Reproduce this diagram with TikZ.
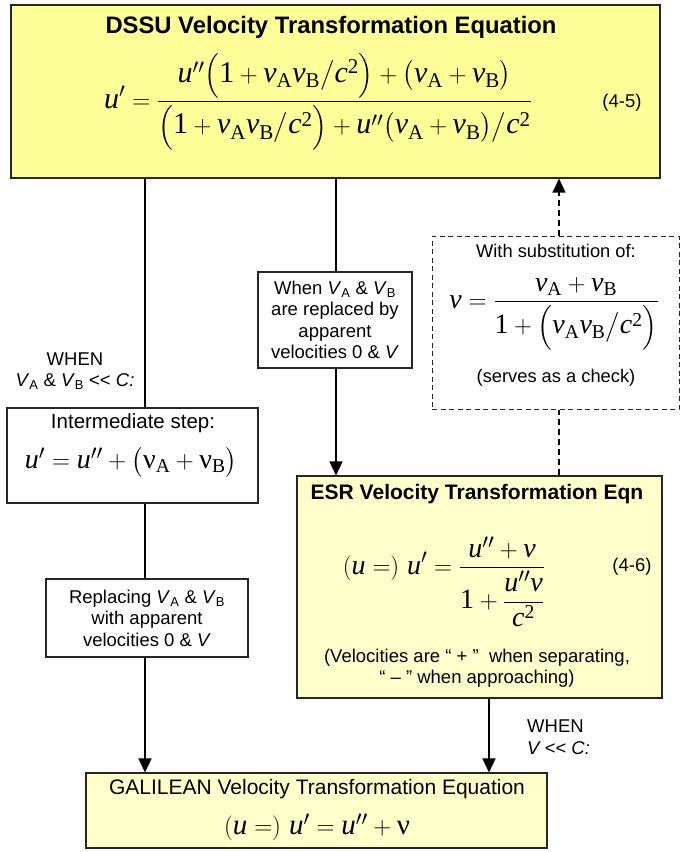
\documentclass[tikz,border=0pt]{standalone}
\usepackage{amsmath}
\usepackage{fontspec}
\setmainfont{Liberation Sans}
\newfontfamily\tms{Liberation Serif}
\usetikzlibrary{arrows.meta}
\definecolor{ybright}{HTML}{FFFF99}
\definecolor{ylight}{HTML}{FFFFCC}
\newcommand{\Uu}{\text{\tms\itshape u}}
\newcommand{\Cc}{\text{\tms\itshape c}}
\newcommand{\Nn}{\text{\tms\itshape ν}}
\newcommand{\One}{\text{\tms 1}}
\newcommand{\Sq}{^{\text{\tms 2}}}
\newcommand{\nA}{\Nn_{\text{\tms A}}}
\newcommand{\nB}{\Nn_{\text{\tms B}}}
\newcommand{\upn}{\text{\tms ν}}
\newcommand{\VA}{\textit{V}\textsubscript{A}}
\newcommand{\VB}{\textit{V}\textsubscript{B}}
\tikzset{
  boxbase/.style={draw=black!85, line width=1.1pt, inner sep=0pt},
  ybox/.style={boxbase, fill=ybright},
  lbox/.style={boxbase, fill=ylight},
  wbox/.style={boxbase, fill=white},
  dbox/.style={draw=black!85, line width=1pt, dash pattern=on 5pt off 3.5pt, inner sep=0pt},
  lbl/.style={inner sep=0pt, align=center, font=\fontsize{18.5}{21.5}\selectfont},
  ttl/.style={inner sep=0pt, font=\fontsize{#1}{#1}\selectfont\bfseries},
  txt/.style={inner sep=0pt, font=\fontsize{#1}{#1}\selectfont},
  eqn/.style={inner sep=0pt, font=\fontsize{#1}{#1}\selectfont},
  conn/.style={line width=1.4pt, draw=black},
  arr/.style={conn, -{Triangle[length=14pt,width=13pt]}},
  dconn/.style={line width=1.2pt, draw=black, dash pattern=on 6pt off 4pt},
}
\begin{document}
\begin{tikzpicture}[x=1pt,y=-1pt]
\useasboundingbox (0,0) rectangle (682,852);
% boxes
\node[ybox, minimum width=649pt, minimum height=173pt] (topbox) at (335.5,91.5) {};
\node[dbox, minimum width=247pt, minimum height=173pt] (dashbox) at (555.5,322.5) {};
\node[wbox, minimum width=154pt, minimum height=96pt, lbl] (midlab) at (335,320)
  {When \VA\ \& \VB\\are replaced by\\apparent\\velocities 0 \& \textit{V}};
\node[wbox, minimum width=251pt, minimum height=95pt] (inter) at (132.5,455.5) {};
\node[wbox, minimum width=202pt, minimum height=78pt, lbl] (repl) at (147,618)
  {Replacing \VA\ \& \VB\\with apparent\\velocities 0 \& \textit{V}};
\node[lbox, minimum width=365pt, minimum height=222pt] (esr) at (479.5,587) {};
\node[lbox, minimum width=461pt, minimum height=75pt] (gal) at (316.5,810.5) {};
% texts in top box
\node[ttl=23.8] (t1) at (331,27) {DSSU Velocity Transformation Equation};
\node[eqn=30, anchor=base] (eq1) at (318,108)
  {$\displaystyle \Uu' = \frac{\Uu''\Bigl(\One+\nA\nB\big/\Cc\Sq\Bigr)+\bigl(\nA+\nB\bigr)}{\Bigl(\One+\nA\nB\big/\Cc\Sq\Bigr)+\Uu''\bigl(\nA+\nB\bigr)\big/\Cc\Sq}$};
\node[txt=18.5] (n45) at (622,103) {(4-5)};
% dashed box texts
\node[txt=18.3] (sub) at (556,251) {With substitution of:};
\node[eqn=28, anchor=base] (eqv) at (554,308)
  {$\displaystyle \Nn = \frac{\nA+\nB}{\One+\Bigl(\nA\nB\big/\Cc\Sq\Bigr)}$};
\node[txt=18.3] (chk) at (556,378) {(serves as a check)};
% WHEN left
\node[lbl] (when1) at (75,371) {WHEN\\\VA\ \& \VB\ {<}{<} \textit{C:}};
% intermediate
\node[txt=20.5] (it) at (133,423) {Intermediate step:};
\node[eqn=28] (eqi) at (131,462) {$\Uu' = \Uu'' + \bigl(\upn_{\text{\tms A}} + \upn_{\text{\tms B}}\bigr)$};
% ESR
\node[ttl=21] (t2) at (477,494) {ESR Velocity Transformation Eqn};
\node[eqn=28, anchor=base] (eq2) at (444,574)
  {$\displaystyle (\Uu=)\ \Uu' = \frac{\Uu''+\Nn}{\One+\dfrac{\Uu''\Nn}{\Cc\Sq}}$};
\node[txt=18.5] (n46) at (632,567) {(4-6)};
\node[lbl] (note) at (477,668) {(Velocities are “ + ”\ \ when separating,\\“ -- ” when approaching)};
% WHEN right
\node[lbl, align=left, anchor=west] (when2) at (527,737) {WHEN\\\textit{V {<}{<} C:}};
% Galilean
\node[txt=21] (t3) at (317,789) {GALILEAN Velocity Transformation Equation};
\node[eqn=29] (eqg) at (317,827) {$(\Uu=)\ \Uu' = \Uu'' + \upn$};
% connectors
\coordinate (xL) at (145,0);
\coordinate (xM) at (336,0);
\coordinate (xD) at (559,0);
\coordinate (xR) at (489,0);
\draw[conn] (topbox.south -| xL) -- (inter.north -| xL);
\draw[conn] (inter.south -| xL) -- (repl.north -| xL);
\draw[arr] (repl.south -| xL) -- (gal.north -| xL);
\draw[conn] (topbox.south -| xM) -- (midlab.north -| xM);
\draw[arr] (midlab.south -| xM) -- (esr.north -| xM);
\draw[dconn, -{Triangle[length=14pt,width=13pt]}] (dashbox.north -| xD) -- (topbox.south -| xD);
\draw[dconn] (esr.north -| xD) -- (dashbox.south -| xD);
\draw[arr] (esr.south -| xR) -- (gal.north -| xR);
\end{tikzpicture}
\end{document}
